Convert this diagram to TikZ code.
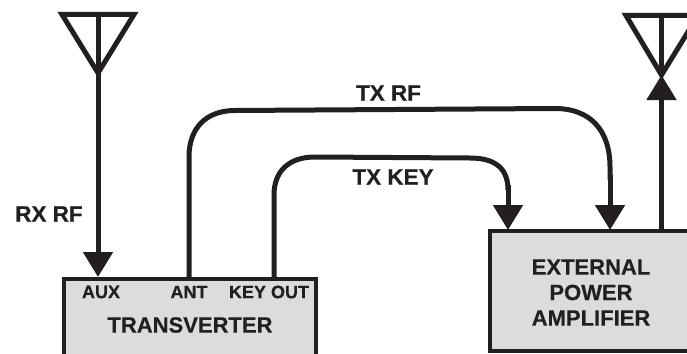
\documentclass[tikz,border=0pt]{standalone}
\usepackage{fontspec}
\setmainfont{Liberation Sans}[BoldFeatures={FakeBold=0.4}]
\usetikzlibrary{arrows.meta}
\definecolor{ink}{HTML}{231F20}
\definecolor{boxfill}{HTML}{DCDCDC}
\tikzset{
  wire/.style={draw=ink,line width=5pt},
  sig/.style={wire,-{Triangle[length=25pt,width=29pt,color=ink]}},
  unit/.style={draw=ink,fill=boxfill,line width=4pt,rectangle,inner sep=0pt,outer sep=2pt},
  sigtext/.style={text=ink,font=\bfseries\fontsize{22.5}{26}\selectfont,inner sep=0pt},
  porttext/.style={text=ink,font=\bfseries\fontsize{18}{21}\selectfont,inner sep=0pt},
  unittext/.style={text=ink,font=\bfseries\fontsize{22}{25.5}\selectfont,inner sep=0pt,align=center},
}
\begin{document}
\begin{tikzpicture}[x=1pt,y=-1pt]
\useasboundingbox (0,0) rectangle (687,353);
\clip (0,0) rectangle (687,353);
% boxes
\node[unit,minimum width=252pt,minimum height=101pt] (trans) at (190,329.5) {};
\node[unit,minimum width=300pt,minimum height=120pt] (amp) at (640,291) {};
% ports and coordinates
\coordinate (auxin) at (98,277);
\coordinate (antout) at (189,277);
\coordinate (keyout) at (274,277);
\coordinate (ampkey) at (508,230);
\coordinate (amprf) at (610,230);
\coordinate (ampout) at (661.5,230);
% antennas
\coordinate (antLfeed) at (98,73);
\coordinate (antRfeed) at (661.5,75);
\draw[wire,line join=miter] (62,14.5) -- (134,14.5) -- (98,73) -- cycle;
\draw[wire] (98,14.5) -- (antLfeed);
\draw[wire,line join=miter] (626,15.5) -- (698,15.5) -- (661.5,75) -- cycle;
\draw[wire] (661.5,15.5) -- (antRfeed);
% connectors
\draw[sig] (antLfeed) -- (auxin);
\draw[wire] (antout) -- (189,157) .. controls (189,128) and (206,110.5) .. (235,110.5) -- (555,108.5) .. controls (590,108.5) and (610,130) .. (610,167) -- (610,180);
\draw[sig] (610,175) -- (amprf);
\draw[wire] (keyout) -- (274,195) .. controls (274,172) and (288,157) .. (315,157) -- (470,158) .. controls (497,158) and (508,170) .. (508,190);
\draw[sig] (508,185) -- (ampkey);
\draw[sig] (ampout) -- (antRfeed);
% labels
\node[sigtext] (rxrf) at (49,214) {RX RF};
\node[sigtext] (txrf) at (388.5,93) {TX RF};
\node[sigtext] (txkey) at (393,177) {TX KEY};
\node[porttext] (aux) at (101,292) {AUX};
\node[porttext] (ant) at (189,292) {ANT};
\node[porttext] (key) at (269,292) {KEY OUT};
\node[unittext] (transname) at (190,325) {TRANSVERTER};
\node[unittext] (ampname) at (591,292.5) {EXTERNAL\\POWER\\AMPLIFIER};
\end{tikzpicture}
\end{document}
